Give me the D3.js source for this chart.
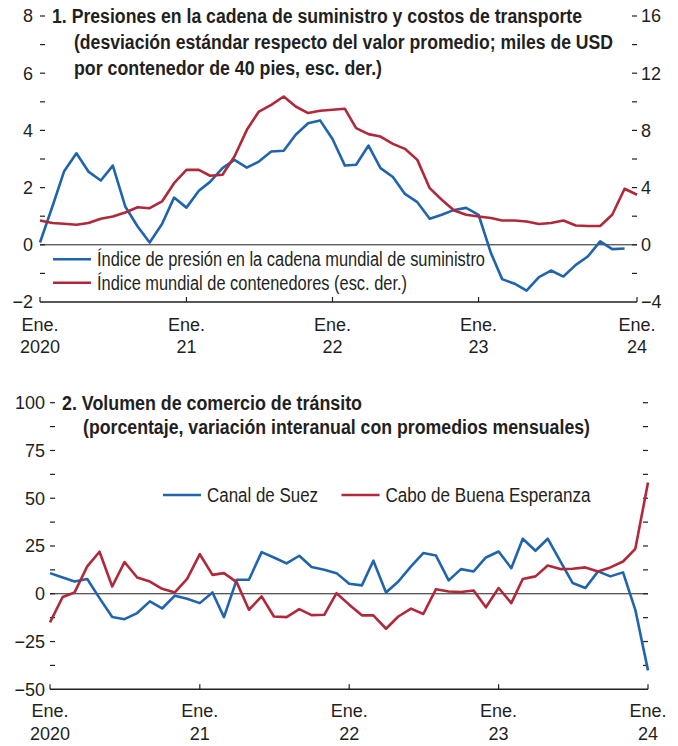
<!DOCTYPE html>
<html>
<head>
<meta charset="utf-8">
<script src="https://cdn.jsdelivr.net/npm/d3@7"></script>
<style>
  body { margin: 0; background: #fff; }
  text { font-family: "Liberation Sans Narrow", "Arial Narrow", "Liberation Sans", sans-serif; fill: #231f20; }
  .title { font-weight: bold; font-size: 19.5px; }
  .tick-label { font-size: 18px; }
  .legend-label { font-size: 19.5px; }
</style>
</head>
<body>
<svg id="chart" width="678" height="746"></svg>
<script>
// Panel 1: months Jan 2020 .. Feb 2024
const months = d3.timeMonth.range(new Date(2020, 0, 1), new Date(2024, 2, 1));

// Global supply chain pressure index (std dev), Jan 2020 .. Jan 2024
const gscpi = [0.08, 1.34, 2.56, 3.2, 2.56, 2.25, 2.77, 1.34, 0.64, 0.08, 0.73, 1.65,
  1.3, 1.89, 2.2, 2.68, 2.97, 2.7, 2.91, 3.26, 3.29, 3.85, 4.25, 4.35,
  3.7, 2.77, 2.8, 3.47, 2.68, 2.37, 1.78, 1.49, 0.91, 1.05, 1.22, 1.29,
  1.05, -0.29, -1.2, -1.36, -1.6, -1.13, -0.9, -1.11, -0.7, -0.41, 0.12, -0.15,
  -0.13];

// World container index (thousands USD per 40ft container), Jan 2020 .. Feb 2024
const containerIdx = [1.7, 1.52, 1.47, 1.4, 1.52, 1.82, 1.98, 2.26, 2.63, 2.56, 3.03, 4.31,
  5.24, 5.24, 4.83, 4.9, 6.17, 8.04, 9.32, 9.79, 10.37, 9.67, 9.21, 9.37,
  9.44, 9.51, 8.16, 7.74, 7.57, 7.06, 6.71, 5.94, 3.96, 3.15, 2.4, 2.1,
  1.98, 1.87, 1.7, 1.7, 1.63, 1.45, 1.52, 1.7, 1.35, 1.31, 1.31, 2.1,
  3.92, 3.5];

// Panel 2: transit trade volume (% y/y), Jan 2020 .. Jan 2024
const suez = [10.8, 8.5, 6.4, 7.7, -2.3, -12.2, -13.3, -10.1, -4.0, -7.7, -1.0, -2.6,
  -4.9, 0.7, -12.2, 7.3, 7.3, 21.8, 19.0, 15.9, 19.9, 14.0, 12.6, 10.8,
  5.2, 4.4, 17.3, 0.7, 6.4, 14.3, 21.3, 20.0, 7.0, 12.9, 11.7, 19.0,
  22.1, 13.4, 28.8, 22.5, 28.8, 16.9, 5.6, 3.0, 11.7, 9.1, 11.2, -8.4,
  -40.1];
const cabo = [-15.0, -1.7, 0.7, 14.3, 22.0, 3.8, 16.6, 8.5, 6.4, 2.6, 0.7, 7.8,
  20.7, 9.9, 10.8, 6.1, -8.4, -1.4, -11.9, -12.2, -8.0, -11.2, -11.0, 0.3,
  -5.7, -11.3, -11.3, -18.3, -11.9, -7.8, -10.6, 2.4, 1.2, 0.9, 1.7, -7.1,
  3.0, -4.9, 7.7, 9.1, 14.8, 12.9, 13.1, 13.8, 11.7, 13.8, 16.9, 23.5,
  58.2];

const yearTicks = [new Date(2020, 0, 1), new Date(2021, 0, 1), new Date(2022, 0, 1),
  new Date(2023, 0, 1), new Date(2024, 0, 1)];
const yearLabels = ["2020", "21", "22", "23", "24"];

const BLUE = "#1f64ad";
const RED = "#b0283a";

const svg = d3.select("#chart");
const fmt = d => d < 0 ? "\u2212" + Math.abs(d) : String(d);

// squeeze text to a given width (reference uses a condensed face)
function fit(sel, w) {
  return sel.attr("textLength", w).attr("lengthAdjust", "spacingAndGlyphs");
}

function yAxisTicks(g, y, values, xEdge, dir, labelEvery, labelX, anchor) {
  g.selectAll(null).data(values).enter().append("line")
    .attr("x1", xEdge).attr("x2", xEdge + dir * 5)
    .attr("y1", d => y(d)).attr("y2", d => y(d))
    .attr("stroke", "#231f20").attr("stroke-width", 1.2);
  if (labelEvery) {
    g.selectAll(null).data(values.filter(labelEvery)).enter().append("text")
      .attr("class", "tick-label")
      .attr("x", labelX).attr("y", d => y(d)).attr("dy", "0.36em")
      .attr("text-anchor", anchor)
      .text(fmt);
  }
}

function xAxis(g, x, yPos, ticksAt, labelY1, labelY2) {
  const [x0, x1] = x.range();
  g.append("line").attr("x1", x0).attr("x2", x1).attr("y1", yPos).attr("y2", yPos)
    .attr("stroke", "#231f20").attr("stroke-width", 1.4);
  g.selectAll(null).data(ticksAt).enter().append("line")
    .attr("x1", d => d).attr("x2", d => d)
    .attr("y1", yPos).attr("y2", yPos - 5)
    .attr("stroke", "#231f20").attr("stroke-width", 1.2);
  g.selectAll(null).data(ticksAt).enter().append("text")
    .attr("class", "tick-label").attr("text-anchor", "middle")
    .attr("x", d => d).attr("y", labelY1).text("Ene.");
  g.selectAll(null).data(ticksAt).enter().append("text")
    .attr("class", "tick-label").attr("text-anchor", "middle")
    .attr("x", d => d).attr("y", labelY2).text((d, i) => yearLabels[i]);
}

function drawLine(g, data, x, y, color) {
  const line = d3.line().x(d => x(d.date)).y(d => y(d.value));
  g.append("path").datum(data)
    .attr("fill", "none").attr("stroke", color).attr("stroke-width", 2.6)
    .attr("stroke-linejoin", "round")
    .attr("d", line);
}

function legendItem(g, x, y, color, label, w) {
  g.append("line").attr("x1", x).attr("x2", x + 38).attr("y1", y).attr("y2", y)
    .attr("stroke", color).attr("stroke-width", 2.6);
  fit(g.append("text").attr("class", "legend-label")
    .attr("x", x + 44).attr("y", y).attr("dy", "0.36em").text(label), w);
}

// ---------- Panel 1 ----------
{
  const g = svg.append("g");
  const x = d3.scaleTime().domain([months[0], months[months.length - 1]]).range([40, 637]);
  const yL = d3.scaleLinear().domain([-2, 8]).range([302, 16]);
  const yR = d3.scaleLinear().domain([-4, 16]).range([302, 16]);

  g.append("line").attr("x1", 40).attr("x2", 637).attr("y1", yL(0)).attr("y2", yL(0))
    .attr("stroke", "#231f20").attr("stroke-width", 1);

  yAxisTicks(g, yL, d3.range(-1, 9, 1), 40, 1, d => d % 2 === 0, 33, "end");
  g.append("text").attr("class", "tick-label").attr("x", 33).attr("y", yL(-2))
    .attr("dy", "0.36em").attr("text-anchor", "end").text(fmt(-2));
  yAxisTicks(g, yR, d3.range(-2, 17, 2), 637, -1, d => d % 4 === 0, 641, "start");
  g.append("text").attr("class", "tick-label").attr("x", 641).attr("y", yR(-4))
    .attr("dy", "0.36em").text(fmt(-4));

  const ticksAt = yearTicks.slice(0, 4).map(x).concat([x.range()[1]]);
  xAxis(g, x, 302, ticksAt, 330.5, 352.5);

  drawLine(g, gscpi.map((v, i) => ({ date: months[i], value: v })), x, yL, BLUE);
  drawLine(g, containerIdx.map((v, i) => ({ date: months[i], value: v })), x, yR, RED);

  fit(g.append("text").attr("class", "title").attr("x", 52).attr("y", 22.5)
    .text("1. Presiones en la cadena de suministro y costos de transporte"), 530);
  fit(g.append("text").attr("class", "title").attr("x", 74).attr("y", 48.5)
    .text("(desviación estándar respecto del valor promedio; miles de USD"), 539);
  fit(g.append("text").attr("class", "title").attr("x", 74).attr("y", 74.5)
    .text("por contenedor de 40 pies, esc. der.)"), 308);

  legendItem(g, 53, 259.3, BLUE, "Índice de presión en la cadena mundial de suministro", 388);
  legendItem(g, 53, 282.7, RED, "Índice mundial de contenedores (esc. der.)", 310);
}

// ---------- Panel 2 ----------
{
  const g = svg.append("g");
  const m2 = months.slice(0, 49);
  const x = d3.scaleTime().domain([m2[0], m2[m2.length - 1]]).range([50, 648]);
  const y = d3.scaleLinear().domain([-50, 100]).range([689.3, 402.7]);

  g.append("line").attr("x1", 50).attr("x2", 648).attr("y1", y(0)).attr("y2", y(0))
    .attr("stroke", "#231f20").attr("stroke-width", 1);

  yAxisTicks(g, y, d3.range(-37.5, 100.1, 12.5), 50, 1, d => d % 25 === 0, 45, "end");
  g.append("text").attr("class", "tick-label").attr("x", 45).attr("y", y(-50))
    .attr("dy", "0.36em").attr("text-anchor", "end").text(fmt(-50));
  yAxisTicks(g, y, d3.range(-37.5, 100.1, 12.5), 648, -1, null);

  const ticksAt = yearTicks.map(x);
  xAxis(g, x, 689.3, ticksAt, 716.5, 740);

  drawLine(g, suez.map((v, i) => ({ date: m2[i], value: v })), x, y, BLUE);
  drawLine(g, cabo.map((v, i) => ({ date: m2[i], value: v })), x, y, RED);

  fit(g.append("text").attr("class", "title").attr("x", 62).attr("y", 409.5)
    .text("2. Volumen de comercio de tránsito"), 300);
  fit(g.append("text").attr("class", "title").attr("x", 83).attr("y", 433.5)
    .text("(porcentaje, variación interanual con promedios mensuales)"), 507);

  legendItem(g, 163, 495, BLUE, "Canal de Suez", 111);
  legendItem(g, 341.5, 495, RED, "Cabo de Buena Esperanza", 205);
}
</script>
</body>
</html>
